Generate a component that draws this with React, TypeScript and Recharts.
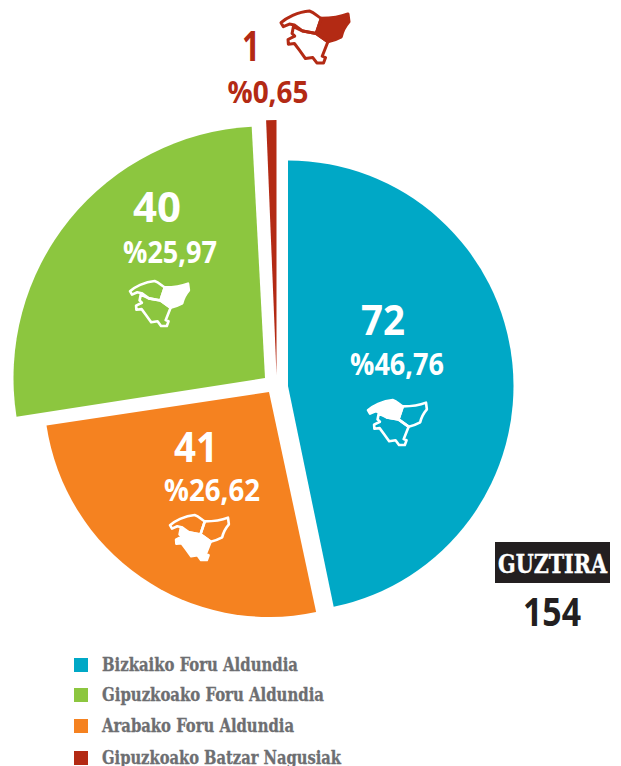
import { PieChart, Pie, Cell } from 'recharts'

const names = ['Bizkaiko Foru Aldundia', 'Gipuzkoako Foru Aldundia', 'Arabako Foru Aldundia', 'Gipuzkoako Batzar Nagusiak']
const counts = [72, 40, 41, 1]
const shares = ['%46,76', '%25,97', '%26,62', '%0,65']
const colors = ['#00A8C6', '#8CC63F', '#F58220', '#B32A14']
const total = 154

// clockwise from the top: blue, orange, green, red
const pieOrder = [0, 2, 1, 3]
// the slices in the picture are sized like this: orange is the 40 one and green the 41 one, whatever the labels say
const drawnValues = [72, 40, 41, 1]
const pieData = pieOrder.map((i, k) => ({ name: names[i], value: drawnValues[k] }))

// every slice is pulled out of the pie on its own
const sliceLayout = [
  { cx: 288, cy: 386, r: 225.5, turn: 0 },
  { cx: 269, cy: 392, r: 225, turn: 0.4 },
  { cx: 265, cy: 378, r: 251.5, turn: 0.7 },
  { cx: 276.5, cy: 375, r: 255, turn: 0 },
]

const labelLayout = [
  { countX: 383, countY: 335, countW: 44, shareX: 397, shareY: 375, shareW: 94, iconX: 368, iconY: 400, fillPart: 0 },
  { countX: 157, countY: 222, countW: 48, shareX: 170, shareY: 263, shareW: 94, iconX: 130, iconY: 281, fillPart: 1 },
  { countX: 196, countY: 462, countW: 44, shareX: 212, shareY: 501, shareW: 96, iconX: 170, iconY: 515, fillPart: 2 },
  { countX: 251, countY: 61, countW: 18, shareX: 268, shareY: 103, shareW: 81, iconX: 281, iconY: 11, fillPart: 1 },
]

const legendY = [665, 695, 726, 758]
const legendW = [196, 222, 192, 239]

const sansFont = '"Open Sans", sans-serif'
const slabFont = '"DejaVu Serif Condensed", "DejaVu Serif", serif'

const mapParts = [
  'M185,68 C200,55 235,35 270,33 C285,38 295,50 305,55 L290,100 L250,93 L225,75 L210,72 L192,80 Z',
  'M305,55 C325,55 360,52 385,42 L388,65 C375,80 368,95 365,110 C350,118 340,122 325,125 L290,100 Z',
  'M222,80 L218,100 L226,108 L206,118 L207,132 L225,130 L240,150 L258,175 L280,172 L292,188 L312,188 L318,172 L308,168 L325,125 L290,100 L250,93 Z',
]

function MapIcon({ x, y, color, fillPart, scale }: { x: number; y: number; color: string; fillPart: number; scale: number }) {
  return (
    <g transform={`translate(${x - 185 * scale} ${y - 33 * scale}) scale(${scale})`}>
      {mapParts.map((d, i) => (
        <path key={i} d={d} fill={i === fillPart ? color : 'none'} stroke={color} strokeWidth={9} strokeLinejoin="round" />
      ))}
    </g>
  )
}

export default function App() {
  return (
    <div style={{ position: 'absolute', left: 0, top: 0, width: 621, height: 766, overflow: 'hidden', background: '#fff' }}>
      <PieChart width={621} height={766} margin={{ top: 0, right: 0, bottom: 0, left: 0 }}>
        {sliceLayout.map((s, idx) => (
          <Pie
            key={idx}
            data={pieData}
            dataKey="value"
            nameKey="name"
            cx={s.cx}
            cy={s.cy}
            innerRadius={0}
            outerRadius={s.r}
            startAngle={90 + s.turn}
            endAngle={-270 + s.turn}
            stroke="none"
            isAnimationActive={false}
          >
            {pieData.map((_, i) => (
              <Cell key={i} fill={i === idx ? colors[pieOrder[i]] : 'none'} />
            ))}
          </Pie>
        ))}
      </PieChart>

      {/* recharts paints the pies above its other children, so the texts get their own svg on top */}
      <svg width={621} height={766} style={{ position: 'absolute', left: 0, top: 0 }}>
        {labelLayout.map((l, i) => {
          const ink = i === 3 ? colors[3] : '#fff'
          return (
            <g key={i}>
              <text x={l.countX} y={l.countY} textAnchor="middle" fontFamily={sansFont} fontWeight={700} fontSize={42} fill={ink} textLength={l.countW} lengthAdjust="spacingAndGlyphs">
                {counts[i]}
              </text>
              <text x={l.shareX} y={l.shareY} textAnchor="middle" fontFamily={sansFont} fontWeight={700} fontSize={30} fill={ink} textLength={l.shareW} lengthAdjust="spacingAndGlyphs">
                {shares[i]}
              </text>
              <MapIcon x={l.iconX} y={l.iconY} color={ink} fillPart={l.fillPart} scale={i === 3 ? 0.335 : 0.29} />
            </g>
          )
        })}

        <rect x={495} y={542} width={115} height={41} fill="#231F20" />
        <text x={552.5} y={573} textAnchor="middle" fontFamily={slabFont} fontWeight={700} fontSize={26} fill="#fff" stroke="#fff" strokeWidth={0.4} textLength={109} lengthAdjust="spacingAndGlyphs">
          GUZTIRA
        </text>
        <text x={552} y={626} textAnchor="middle" fontFamily={sansFont} fontWeight={700} fontSize={39} fill="#231F20" textLength={58} lengthAdjust="spacingAndGlyphs">
          {total}
        </text>

        {names.map((n, i) => (
          <g key={n}>
            <rect x={74} y={legendY[i] - 7} width={14} height={14} fill={colors[i]} />
            <text x={102} y={legendY[i] + 6} fontFamily={slabFont} fontWeight={700} fontSize={18} fill="#6D6E71" stroke="#6D6E71" strokeWidth={0.3} textLength={legendW[i]} lengthAdjust="spacingAndGlyphs">
              {n}
            </text>
          </g>
        ))}
      </svg>
    </div>
  )
}
